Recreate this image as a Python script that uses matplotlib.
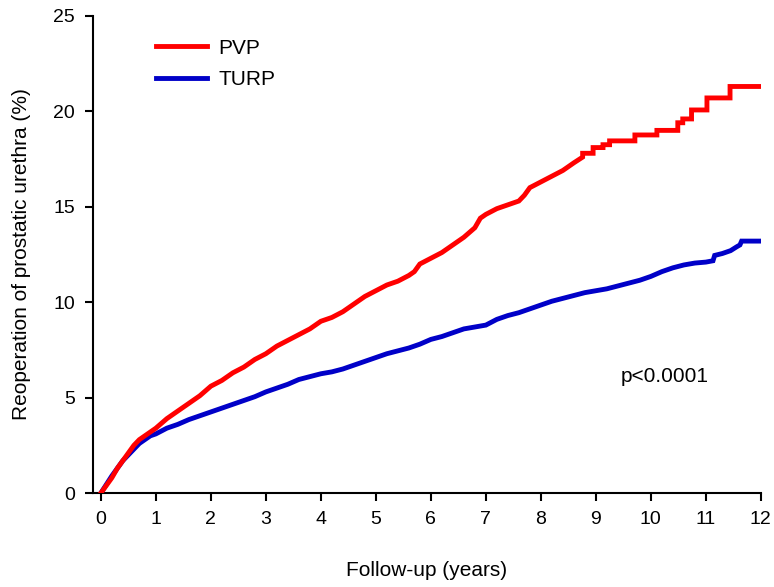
import matplotlib
matplotlib.use("Agg")
import matplotlib.pyplot as plt

# values (years, % reoperated)
# late part of each curve keeps the step corners (same year twice = a jump)
pvp_years = [0, 0.1, 0.2, 0.3, 0.4, 0.5, 0.6, 0.7, 0.8, 0.9, 1.0, 1.2, 1.4, 1.6, 1.8,
             2.0, 2.2, 2.4, 2.6, 2.8, 3.0, 3.2, 3.4, 3.6, 3.8, 4.0, 4.2, 4.4, 4.6, 4.8,
             5.0, 5.2, 5.4, 5.6, 5.7, 5.8, 6.0, 6.2, 6.4, 6.6, 6.8, 6.9, 7.0, 7.2, 7.4,
             7.6, 7.7, 7.8, 8.0, 8.2, 8.4, 8.6, 8.76,
             8.76, 8.95, 8.95, 9.13, 9.13, 9.25, 9.25, 9.71, 9.71, 10.11, 10.11, 10.49,
             10.49, 10.58, 10.58, 10.74, 10.74, 11.02, 11.02, 11.44, 11.44, 12.0]
pvp_rate = [0, 0.4, 0.8, 1.3, 1.7, 2.1, 2.5, 2.8, 3.0, 3.2, 3.4, 3.9, 4.3, 4.7, 5.1,
            5.6, 5.9, 6.3, 6.6, 7.0, 7.3, 7.7, 8.0, 8.3, 8.6, 9.0, 9.2, 9.5, 9.9, 10.3,
            10.6, 10.9, 11.1, 11.4, 11.6, 12.0, 12.3, 12.6, 13.0, 13.4, 13.9, 14.4, 14.6, 14.9, 15.1,
            15.3, 15.6, 16.0, 16.3, 16.6, 16.9, 17.3, 17.6,
            17.8, 17.8, 18.1, 18.1, 18.25, 18.25, 18.45, 18.45, 18.76, 18.76, 19.0, 19.0,
            19.4, 19.4, 19.6, 19.6, 20.07, 20.07, 20.7, 20.7, 21.3, 21.3]

turp_years = [0, 0.1, 0.2, 0.3, 0.4, 0.5, 0.6, 0.7, 0.8, 0.9, 1.0, 1.2, 1.4, 1.6, 1.8,
              2.0, 2.2, 2.4, 2.6, 2.8, 3.0, 3.2, 3.4, 3.6, 3.8, 4.0, 4.2, 4.4, 4.6, 4.8,
              5.0, 5.2, 5.4, 5.6, 5.8, 6.0, 6.2, 6.4, 6.6, 6.8, 7.0, 7.2, 7.4, 7.6, 7.8,
              8.0, 8.2, 8.4, 8.6, 8.8, 9.0, 9.2, 9.4, 9.6, 9.8, 10.0, 10.2, 10.4, 10.6, 10.8,
              11.0, 11.13, 11.16, 11.3, 11.45, 11.56, 11.62, 11.65, 12.0]
turp_rate = [0, 0.45, 0.9, 1.3, 1.7, 2.0, 2.3, 2.6, 2.8, 3.0, 3.1, 3.4, 3.6, 3.85, 4.05,
             4.25, 4.45, 4.65, 4.85, 5.05, 5.3, 5.5, 5.7, 5.95, 6.1, 6.25, 6.35, 6.5, 6.7, 6.9,
             7.1, 7.3, 7.45, 7.6, 7.8, 8.05, 8.2, 8.4, 8.6, 8.7, 8.8, 9.1, 9.3, 9.45, 9.65,
             9.85, 10.05, 10.2, 10.35, 10.5, 10.6, 10.7, 10.85, 11.0, 11.15, 11.35, 11.6, 11.8, 11.95, 12.05,
             12.1, 12.17, 12.45, 12.55, 12.7, 12.9, 13.0, 13.2, 13.2]

x_ticks = list(range(0, 13))
y_ticks = [0, 5, 10, 15, 20, 25]

plt.rcParams['font.family'] = ['Liberation Sans', 'DejaVu Sans']

fig = plt.figure(figsize=(7.74, 5.87), dpi=100)
ax = fig.add_axes([0.120, 0.160, 0.863, 0.813])

ax.plot(pvp_years, pvp_rate, color='#FF0000', lw=3.5,
        solid_joinstyle='miter', label='PVP', zorder=3)
ax.plot(turp_years, turp_rate, color='#0000C8', lw=3.5,
        solid_joinstyle='miter', label='TURP', zorder=2)

ax.set_xlim(-0.145, 12)
ax.set_ylim(0, 25)
ax.set_xticks(x_ticks)
ax.set_yticks(y_ticks)
ax.spines['top'].set_visible(False)
ax.spines['right'].set_visible(False)
for s in ['left', 'bottom']:
    ax.spines[s].set_linewidth(1.5)
ax.tick_params(direction='out', length=6, width=1.5, labelsize=14, pad=7)

ax.set_xlabel('Follow-up (years)', fontsize=15, labelpad=24)
ax.set_ylabel('Reoperation of prostatic urethra (%)', fontsize=15, labelpad=16)

ax.text(10.25, 6.1, 'p<0.0001', fontsize=15, ha='center', va='center')

leg = ax.legend(loc='upper left', bbox_to_anchor=(0.094, 0.952), frameon=False,
                fontsize=15, handlelength=2.45, handletextpad=0.55, labelspacing=0.6,
                borderaxespad=0, borderpad=0)

fig.savefig('out.png', dpi=100)
